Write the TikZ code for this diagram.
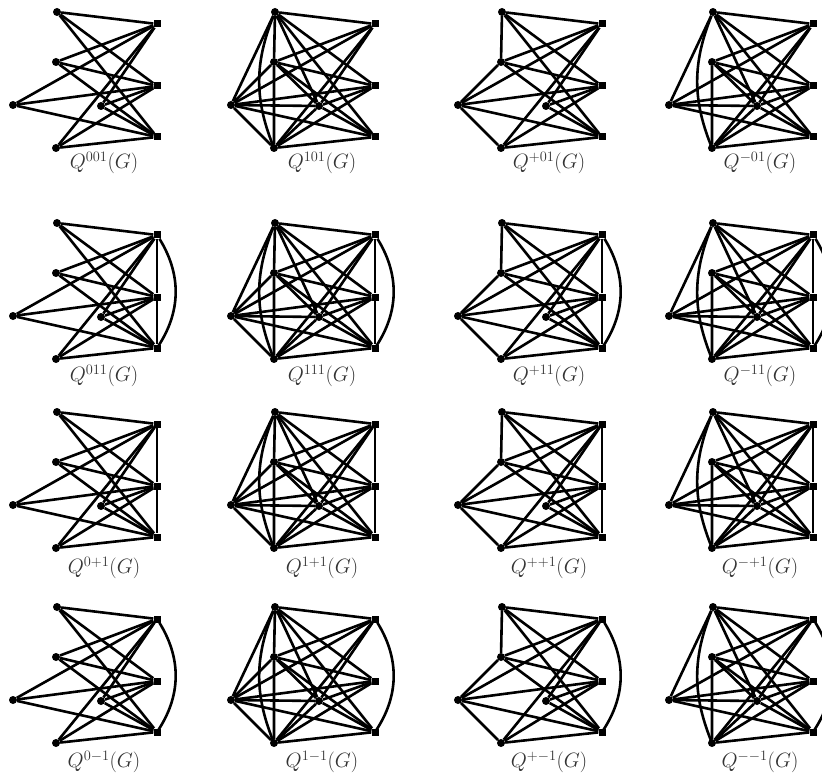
\documentclass[tikz,border=0pt]{standalone}
\tikzset{
  cv/.style={circle, fill=black, inner sep=0pt, minimum size=8pt},
  sv/.style={rectangle, fill=black, inner sep=0pt, minimum size=7pt},
  edge/.style={line width=2.6pt, black},
  lab/.style={font=\fontsize{20.5}{23}\selectfont, text=black!80, inner sep=0pt},
}
% circle part
\newcommand{\qXone}{\draw[edge] (A)--(B) (B)--(E) (A)--(C) (A)--(D) (B)--(C) (B)--(D) (C)--(D) (C)--(E) (D)--(E);
  \draw[edge] (A) to[bend right=22] (E);}
\newcommand{\qXplus}{\draw[edge] (A)--(B) (B)--(C) (C)--(E);}
\newcommand{\qXminus}{\draw[edge] (A)--(C) (A)--(D) (B)--(D) (B)--(E) (C)--(D) (D)--(E);
  \draw[edge] (A) to[bend right=22] (E);}
% square part
\newcommand{\qYone}{\draw[edge] (S1)--(S2) (S2)--(S3); \draw[edge] (S1) to[bend left=33] (S3);}
\newcommand{\qYplus}{\draw[edge] (S1)--(S2) (S2)--(S3);}
\newcommand{\qYminus}{\draw[edge] (S1) to[bend left=33] (S3);}
\newcommand{\qcell}[7]{%
\begin{scope}[shift={(#1,#2)}, name prefix=#3-]
  \node[cv] (A) at (57,12) {};
  \node[cv] (B) at (56,62) {};
  \node[cv] (C) at (13,105) {};
  \node[cv] (D) at (101,106) {};
  \node[cv] (E) at (56,148) {};
  \node[sv] (S1) at (157,24) {};
  \node[sv] (S2) at (157,86) {};
  \node[sv] (S3) at (157,137) {};
  \foreach \c in {A,B,C,D,E}{\foreach \s in {S1,S2,S3}{\draw[edge] (\c) -- (\s);}}
  #4
  #5
  \node[lab] (L) at (104,#6) {$Q^{#7}(G)$};
\end{scope}}
\begin{document}
\begin{tikzpicture}[x=1pt, y=-1pt]
\useasboundingbox (0,0) rectangle (822,778);
% row 1
\qcell{0}{0}{r1c1}{}{}{163}{001}
\qcell{218}{0}{r1c2}{\qXone}{}{163}{101}
\qcell{445}{0}{r1c3}{\qXplus}{}{163}{+01}
\qcell{656}{0}{r1c4}{\qXminus}{}{163}{-01}
% row 2
\qcell{0}{211}{r2c1}{}{\qYone}{165}{011}
\qcell{218}{211}{r2c2}{\qXone}{\qYone}{165}{111}
\qcell{445}{211}{r2c3}{\qXplus}{\qYone}{165}{+11}
\qcell{656}{211}{r2c4}{\qXminus}{\qYone}{165}{-11}
% row 3
\qcell{0}{400}{r3c1}{}{\qYplus}{168}{0+1}
\qcell{218}{400}{r3c2}{\qXone}{\qYplus}{168}{1+1}
\qcell{445}{400}{r3c3}{\qXplus}{\qYplus}{168}{++1}
\qcell{656}{400}{r3c4}{\qXminus}{\qYplus}{168}{-+1}
% row 4
\qcell{0}{595}{r4c1}{}{\qYminus}{167}{0-1}
\qcell{218}{595}{r4c2}{\qXone}{\qYminus}{167}{1-1}
\qcell{445}{595}{r4c3}{\qXplus}{\qYminus}{167}{+-1}
\qcell{656}{595}{r4c4}{\qXminus}{\qYminus}{167}{--1}
\end{tikzpicture}
\end{document}
